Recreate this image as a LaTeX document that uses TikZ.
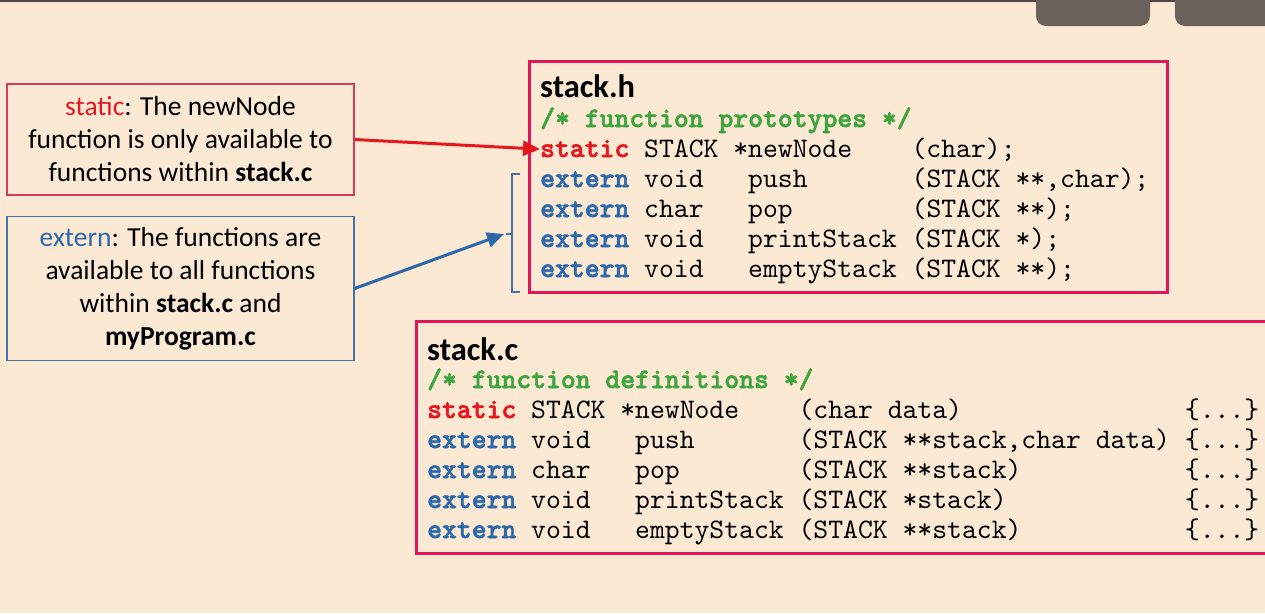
\documentclass[tikz,border=0pt]{standalone}
\usepackage{xcolor}
\usepackage{tikz}
\usepackage{fontspec}
\setmainfont{Carlito}
\setmonofont{lmmono10-regular.otf}[BoldFont=lmmonolt10-bold.otf, BoldFeatures={FakeBold=2}]
\usetikzlibrary{arrows.meta}

\definecolor{bgpeach}{RGB}{251,233,212}
\definecolor{boxpink}{RGB}{224,22,92}
\definecolor{notered}{RGB}{214,60,90}
\definecolor{noteblue}{RGB}{70,115,165}
\definecolor{kwred}{RGB}{228,24,30}
\definecolor{kwblue}{RGB}{45,105,170}
\definecolor{cmtgreen}{RGB}{62,165,62}
\definecolor{btngray}{RGB}{106,98,90}
\definecolor{topdark}{RGB}{80,70,70}

\newcommand{\kwS}[1]{\textcolor{kwred}{\bfseries #1}}
\newcommand{\kwE}[1]{\textcolor{kwblue}{\bfseries #1}}
\newcommand{\cmt}[1]{\textcolor{cmtgreen}{\bfseries #1}}
\newcommand{\pad}[1]{\hspace*{#1\fontdimen2\font}}

\begin{document}
\begin{tikzpicture}[x=1pt,y=-1pt]
  \tikzstyle{code}=[anchor=base west, inner sep=0pt, font=\ttfamily\fontsize{28.3}{30}\selectfont]
  \tikzstyle{title}=[anchor=base west, inner sep=0pt, font=\bfseries\fontsize{32.5}{34}\selectfont]
  \tikzstyle{note}=[draw, line width=1.2, align=center, inner sep=0pt, minimum width=347, font=\fontsize{27.5}{33}\selectfont]
  \tikzstyle{filebox}=[draw=boxpink, line width=3, inner sep=0pt]
  \tikzstyle{pointer}=[line width=3, -{Triangle[length=17,width=15]}]

  % page
  \useasboundingbox (0,0) rectangle (1265,613);
  \fill[bgpeach] (0,0) rectangle (1265,613);
  \fill[topdark] (0,0) rectangle (1265,2);
  \fill[btngray, rounded corners=10] (1036,-20) rectangle (1150,26);
  \fill[btngray, rounded corners=10] (1175,-20) rectangle (1300,26);

  % notes on the left
  \node[note, draw=notered, minimum height=111] (staticnote) at (180.5,139.5)
    {\textcolor{kwred}{static}: The newNode\\function is only available to\\functions within \textbf{stack.c}};
  \node[note, draw=noteblue, minimum height=144] (externnote) at (180.5,288.5)
    {\textcolor{kwblue}{extern}: The functions are\\available to all functions\\within \textbf{stack.c} and\\\textbf{myProgram.c}};

  % stack.h
  \node[filebox, minimum width=638, minimum height=231] (hfile) at (848,176.5) {};
  \node[title] (htitle) at (540,97) {stack.h};
  \node[code] (hcmt) at (540,127) {\cmt{/* function prototypes */}};
  \node[code] (hnew) at (540,157) {\kwS{static} STACK *newNode\pad{4}(char);};
  \node[code] (hpush) at (540,187) {\kwE{extern} void\pad{3}push\pad{7}(STACK **,char);};
  \node[code] (hpop) at (540,217) {\kwE{extern} char\pad{3}pop\pad{8}(STACK **);};
  \node[code] (hprint) at (540,247) {\kwE{extern} void\pad{3}printStack (STACK *);};
  \node[code] (hempty) at (540,277) {\kwE{extern} void\pad{3}emptyStack (STACK **);};

  % stack.c
  \node[filebox, minimum width=876, minimum height=232] (cfile) at (854,437) {};
  \node[title] (ctitle) at (427,360) {stack.c};
  \node[code] (ccmt) at (427,388) {\cmt{/* function definitions */}};
  \node[code] (cnew) at (427,418) {\kwS{static} STACK *newNode\pad{4}(char data)\pad{15}\{...\}};
  \node[code] (cpush) at (427,448) {\kwE{extern} void\pad{3}push\pad{7}(STACK **stack,char data) \{...\}};
  \node[code] (cpop) at (427,478) {\kwE{extern} char\pad{3}pop\pad{8}(STACK **stack)\pad{11}\{...\}};
  \node[code] (cprint) at (427,508) {\kwE{extern} void\pad{3}printStack (STACK *stack)\pad{12}\{...\}};
  \node[code] (cempty) at (427,538) {\kwE{extern} void\pad{3}emptyStack (STACK **stack)\pad{11}\{...\}};

  % bracket over the extern lines
  \draw[noteblue, line width=1.5] (520,174) -- (512,174) -- (512,292) -- (520,292);
  \draw[noteblue, line width=1.5] (512,234) -- (506,234);
  \coordinate (brk) at (504,234);

  % arrows
  \draw[pointer, kwred] (staticnote.east) -- (hnew.west);
  \draw[pointer, kwblue] (externnote.east) -- (brk);
\end{tikzpicture}
\end{document}
